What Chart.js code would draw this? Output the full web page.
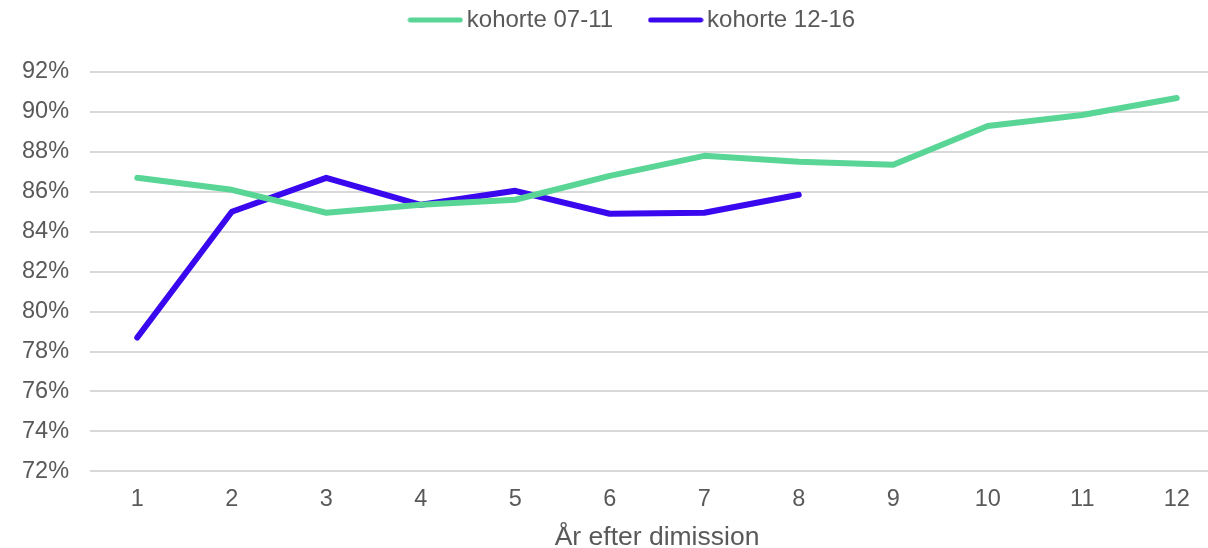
<!DOCTYPE html>
<html>
<head>
<meta charset="utf-8">
<script src="https://cdn.jsdelivr.net/npm/chart.js@4"></script>
<style>
  html, body { margin: 0; padding: 0; background: #fff; overflow: hidden; }
  #wrap { width: 1266px; height: 548px; position: relative; }
</style>
</head>
<body>
<div id="wrap"><canvas id="c" width="1266" height="548"></canvas></div>
<script>
const categories = ['1','2','3','4','5','6','7','8','9','10','11','12'];
const kohorte0711 = [86.7, 86.1, 84.95, 85.35, 85.6, 86.8, 87.8, 87.5, 87.35, 89.3, 89.85, 90.7];
const kohorte1216 = [78.7, 85.0, 86.7, 85.35, 86.05, 84.9, 84.95, 85.85];
const seriesNames = ['kohorte 07-11', 'kohorte 12-16'];
const yTicks = [72, 74, 76, 78, 80, 82, 84, 86, 88, 90, 92];
const xTitle = 'År efter dimission';

const green = 'rgb(89,214,150)';
const blue = 'rgb(58,8,238)';
const textColor = '#595959';
const font = 'Arial, "Liberation Sans", sans-serif';

function lineSwatch(color) {
  const c = document.createElement('canvas');
  c.width = 56; c.height = 8;
  const g = c.getContext('2d');
  g.strokeStyle = color; g.lineWidth = 5; g.lineCap = 'round';
  g.beginPath(); g.moveTo(3, 4); g.lineTo(53, 4); g.stroke();
  return c;
}
const swatches = [lineSwatch(green), lineSwatch(blue)];

const legendTweak = {
  id: 'legendTweak',
  beforeInit(chart) {
    const fit = chart.legend.fit;
    chart.legend.fit = function () { fit.call(this); this.height -= 5; };
  },
  afterLayout(chart) {
    const lg = chart.legend;
    lg.left += 23; lg.right += 23;
    lg.top -= 35; lg.bottom -= 35;
  }
};

new Chart(document.getElementById('c'), {
  type: 'line',
  data: {
    labels: categories,
    datasets: [
      { label: seriesNames[0], data: kohorte0711, borderColor: green, backgroundColor: green,
        borderWidth: 6, pointRadius: 0, borderCapStyle: 'round', borderJoinStyle: 'round', tension: 0 },
      { label: seriesNames[1], data: kohorte1216, borderColor: blue, backgroundColor: blue,
        borderWidth: 6, pointRadius: 0, borderCapStyle: 'round', borderJoinStyle: 'round', tension: 0 }
    ]
  },
  plugins: [legendTweak],
  options: {
    responsive: false,
    animation: false,
    layout: { padding: { left: 1, right: 42, top: 0, bottom: 0 } },
    plugins: {
      tooltip: { enabled: false },
      legend: {
        position: 'top',
        labels: {
          color: textColor,
          font: { family: font, size: 24 },
          usePointStyle: true,
          pointStyleWidth: 39,
          boxHeight: 8,
          padding: 43,
          generateLabels(chart) {
            const items = Chart.defaults.plugins.legend.labels.generateLabels(chart);
            items.forEach((it, i) => { it.pointStyle = swatches[i]; });
            return items;
          }
        }
      }
    },
    scales: {
      x: {
        offset: true,
        grid: { display: false, drawTicks: false },
        border: { display: false },
        ticks: { color: textColor, font: { family: font, size: 23.5 }, padding: 14 },
        title: { display: true, text: xTitle, color: textColor,
          font: { family: font, size: 26.5, lineHeight: 1.0 }, padding: { top: -3, bottom: -3 } }
      },
      y: {
        min: 72, max: 92,
        afterBuildTicks: (axis) => { axis.ticks = yTicks.map(v => ({ value: v })); },
        grid: { color: '#D9D9D9', lineWidth: 2, drawTicks: false },
        border: { display: false },
        ticks: { color: textColor, font: { family: font, size: 23.5 }, padding: 21,
          callback: (v) => v + '%' }
      }
    }
  }
});
</script>
</body>
</html>
